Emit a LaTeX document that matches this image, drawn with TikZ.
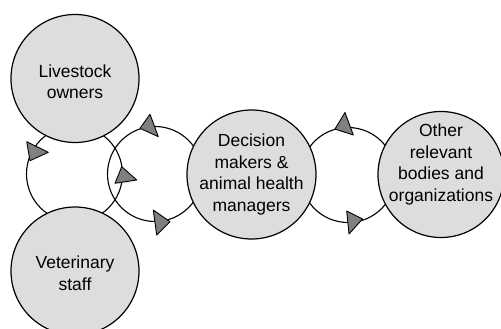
\documentclass[tikz,border=0pt]{standalone}
\usepackage{fontspec}
\setmainfont{Liberation Sans}
\usetikzlibrary{arrows}
\tikzset{
	bubble/.style={circle,draw=black,line width=1.2pt,fill=bubblegray,inner sep=0pt},
	bubbletext/.style={align=center,font=\fontsize{17.5}{21.5}\selectfont},
	loopline/.style={line width=1.1pt},
	tipmark/.style={draw=black,fill=tipgray,line width=0.9pt}
}
\definecolor{bubblegray}{RGB}{221,221,221}
\definecolor{tipgray}{RGB}{128,128,128}

\begin{document}
\begin{tikzpicture}[line cap=round,line join=round,x=1pt,y=-1pt]
		\useasboundingbox (0,0) rectangle (501,329);
		\clip (0,0) rectangle (501,329);
		% loop centres
		\coordinate (loopL) at (74.5,174);
		\coordinate (loopM) at (155,174);
		\coordinate (loopR) at (348,175);
		\draw [loopline] (loopL) circle (48);
		\draw [loopline] (loopM) circle (47.5);
		\draw [loopline] (loopR) circle (47.5);
		% bubbles
		\node [bubble,minimum size=128pt,label={[bubbletext,yshift=-3pt]center:Livestock\\owners}] (livestock) at (75,78.5) {};
		\node [bubble,minimum size=128pt,label={[bubbletext,yshift=-2pt]center:Veterinary\\staff}] (vet) at (75,271) {};
		\node [bubble,minimum size=129pt,label={[bubbletext]center:Decision\\makers \&\\animal health\\managers}] (dm) at (251.5,174.5) {};
		\node [bubble,minimum size=126pt,label={[bubbletext,yshift=10pt]center:Other\\relevant\\bodies and\\organizations}] (other) at (441,174.5) {};
		% arrow marks
		\filldraw [tipmark] (26.7,141.7) -- (48.3,152.3) -- (30,160.7) -- cycle;
		\filldraw [tipmark] (115,183.3) -- (121.7,166.7) -- (136.7,180) -- cycle;
		\filldraw [tipmark] (140,128.3) -- (150,114.3) -- (158.3,136.7) -- cycle;
		\filldraw [tipmark] (153.3,210) -- (170,221.7) -- (156.7,235) -- cycle;
		\filldraw [tipmark] (335,129) -- (345,112.5) -- (353.3,135) -- cycle;
		\filldraw [tipmark] (346.7,211) -- (362.5,219) -- (349,234) -- cycle;
	\end{tikzpicture}
\end{document}
